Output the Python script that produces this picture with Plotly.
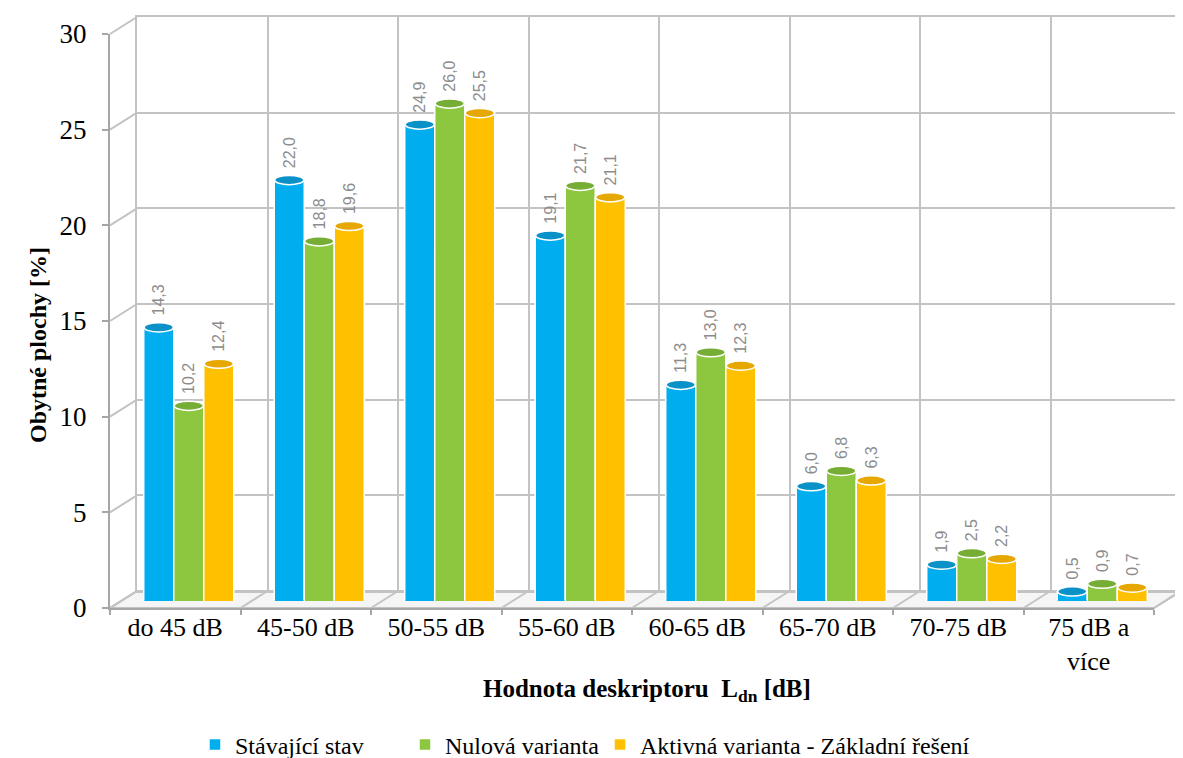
import plotly.graph_objects as go

categories = ["do 45 dB", "45-50 dB", "50-55 dB", "55-60 dB", "60-65 dB", "65-70 dB", "70-75 dB", "75 dB a<br>více"]
stavajici = [14.3, 22.0, 24.9, 19.1, 11.3, 6.0, 1.9, 0.5]
nulova = [10.2, 18.8, 26.0, 21.7, 13.0, 6.8, 2.5, 0.9]
aktivna = [12.4, 19.6, 25.5, 21.1, 12.3, 6.3, 2.2, 0.7]
series_names = ["Stávající stav", "Nulová varianta", "Aktivná varianta - Základní řešení"]
colors = ["#00aeef", "#8dc63f", "#ffc000"]
top_colors = ["#0a92c8", "#76ad34", "#e6a700"]
y_ticks = [0, 5, 10, 15, 20, 25, 30]

W, H = 1183, 758
OX, OY = 8, 8  # page body margin offset
def px(x): return (x - OX) / W
def py(y): return 1 - (y - OY) / H

SERIF = "Liberation Serif, Times New Roman, DejaVu Serif, serif"
BARGAP = 0.31

fig = go.Figure()

# back wall grid subplot (x, y) - invisible helper trace
fig.add_trace(go.Scatter(x=[None], y=[None], xaxis="x", yaxis="y", showlegend=False, hoverinfo="skip"))

all_series = [stavajici, nulova, aktivna]
legend_ids = ["legend", "legend2", "legend3"]
for name, vals, col, lg in zip(series_names, all_series, colors, legend_ids):
    fig.add_trace(go.Bar(
        x=categories, y=vals, name=name, xaxis="x2", yaxis="y2", legend=lg,
        marker=dict(color=col, line=dict(color="white", width=1.5)),
        texttemplate="\u00a0\u00a0%{y:.1f}", textposition="outside", textangle=-90,
        constraintext="none",
        textfont=dict(family="Liberation Sans, Arial, sans-serif", size=16, color="#8c8c8c"),
        cliponaxis=False,
    ))

# front axis subplot (x3, y3)
fig.add_trace(go.Scatter(x=categories, y=[None] * len(categories), xaxis="x3", yaxis="y3",
                         showlegend=False, hoverinfo="skip", mode="markers"))

grid_col = "#c3c3c3"
legend_x = [195, 405, 600]
legend_common = dict(orientation="h", xanchor="left", y=py(745), yanchor="middle",
                     font=dict(family=SERIF, size=24, color="black"), itemwidth=30,
                     bgcolor="rgba(0,0,0,0)")
fig.update_layout(
    width=W, height=H,
    font=dict(family=SERIF, color="black"),
    margin=dict(l=0, r=0, t=0, b=0, autoexpand=False),
    paper_bgcolor="white", plot_bgcolor="rgba(0,0,0,0)",
    separators=",.",
    barmode="group", bargap=BARGAP, bargroupgap=0,
    xaxis=dict(domain=[px(137), px(1181)], range=[0, 8], dtick=1, showgrid=True,
               gridcolor=grid_col, gridwidth=2, showticklabels=False, zeroline=False,
               showline=True, mirror=True, linecolor=grid_col, linewidth=2, anchor="y"),
    yaxis=dict(domain=[py(591), py(17)], range=[0, 30], dtick=5, showgrid=True,
               gridcolor=grid_col, gridwidth=2, showticklabels=False, zeroline=False,
               showline=True, mirror=True, linecolor=grid_col, linewidth=2, anchor="x"),
    xaxis2=dict(domain=[px(123.5), px(1167.5)], range=[-0.5, 7.5], type="category",
                showgrid=False, showticklabels=False, zeroline=False, showline=False, anchor="y2",
                categoryorder="array", categoryarray=categories),
    yaxis2=dict(domain=[py(601), py(27)], range=[0, 30], showgrid=False, showticklabels=False,
                zeroline=False, showline=False, anchor="x2"),
    xaxis3=dict(domain=[px(110), px(1154)], range=[-0.5, 7.5], type="category",
                categoryorder="array", categoryarray=categories,
                showgrid=False, zeroline=False, showline=True, linecolor="#a6a6a6", linewidth=2,
                ticks="outside", tickson="boundaries", ticklen=5, tickcolor="#a6a6a6", tickwidth=2,
                ticklabelstandoff=-5,
                tickfont=dict(family=SERIF, size=26, color="black"), anchor="y3"),
    yaxis3=dict(domain=[py(608), py(34)], range=[0, 30], tickvals=y_ticks,
                showgrid=False, zeroline=False, showline=True, linecolor="#a6a6a6", linewidth=2,
                ticks="outside", ticklen=6, tickcolor="#a6a6a6", tickwidth=2, ticklabelstandoff=10,
                tickfont=dict(family=SERIF, size=27, color="black"), anchor="x3"),
    legend=dict(x=px(legend_x[0]), **legend_common),
    legend2=dict(x=px(legend_x[1]), **legend_common),
    legend3=dict(x=px(legend_x[2]), **legend_common),
    showlegend=True,
    annotations=[
        dict(text="<b>Obytné plochy [%]</b>", xref="paper", yref="paper",
             x=px(38), y=py(345), textangle=-90, showarrow=False,
             xanchor="center", yanchor="middle",
             font=dict(family=SERIF, size=24, color="black")),
        dict(text="<b>Hodnota deskriptoru  L<sub>dn</sub> [dB]</b>", xref="paper", yref="paper",
             x=px(647), y=py(690), showarrow=False, xanchor="center", yanchor="middle",
             font=dict(family=SERIF, size=25, color="black")),
    ],
)

shapes = []
# floor
shapes.append(dict(type="path", xref="paper", yref="paper", layer="below",
                   path=f"M {px(110)} {py(608)} L {px(1154)} {py(608)} L {px(1181)} {py(591)} L {px(137)} {py(591)} Z",
                   fillcolor="#f5f5f5", line=dict(color=grid_col, width=2)))
# connectors from front y ticks to back wall
for v in y_ticks:
    yf = 608 - v * (608 - 34) / 30
    yb = 591 - v * (591 - 17) / 30
    shapes.append(dict(type="line", xref="paper", yref="paper", layer="below",
                       x0=px(110), y0=py(yf), x1=px(137), y1=py(yb),
                       line=dict(color=grid_col, width=2)))
# floor connectors at category boundaries
n = len(categories)
for k in range(n + 1):
    xf = 110 + k * (1154 - 110) / n
    xb = 137 + k * (1181 - 137) / n
    shapes.append(dict(type="line", xref="paper", yref="paper", layer="below",
                       x0=px(xf), y0=py(608), x1=px(xb), y1=py(591),
                       line=dict(color=grid_col, width=2)))

# cylinder caps (top and bottom ellipses) positioned through the bar axes
bw = (1 - BARGAP) / 3
eh = 0.24
for j, (vals, col, tcol) in enumerate(zip(all_series, colors, top_colors)):
    for i, v in enumerate(vals):
        xc = i + (j - 1) * bw
        shapes.append(dict(type="circle", xref="x2", yref="y2", layer="above",
                           x0=xc - bw / 2 + 0.004, x1=xc + bw / 2 - 0.004, y0=-eh, y1=eh,
                           fillcolor=col, line=dict(width=0)))
        shapes.append(dict(type="circle", xref="x2", yref="y2", layer="above",
                           x0=xc - bw / 2 + 0.004, x1=xc + bw / 2 - 0.004, y0=v - eh, y1=v + eh,
                           fillcolor=tcol, line=dict(color="white", width=1.5)))
fig.update_layout(shapes=shapes)

fig.write_html("out.html")
